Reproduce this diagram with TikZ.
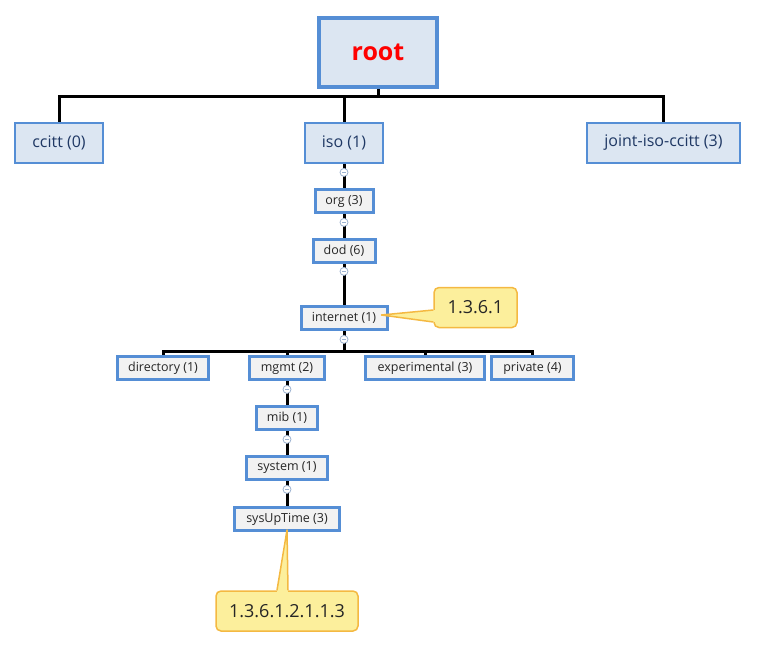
\documentclass[tikz,border=0pt]{standalone}
\usepackage{fontspec}
\setmainfont{Open Sans}
\usetikzlibrary{positioning}
\definecolor{boxblue}{HTML}{558ED5}
\definecolor{topfill}{HTML}{DCE6F2}
\definecolor{leaffill}{HTML}{F2F2F2}
\definecolor{toptext}{HTML}{1F3864}
\definecolor{notefill}{HTML}{FCEF9C}
\definecolor{noteline}{HTML}{F4B942}
\definecolor{markline}{HTML}{9DB3D1}
\tikzset{
x=1pt, y=-1pt, % one unit is one pixel, y grows downwards
node distance=24pt, % gap between two boxes of a chain
rootbox/.style={draw=boxblue, line width=4pt, fill=topfill, text=red, font=\fontsize{25}{30}\selectfont\bfseries, minimum width=118pt, minimum height=69pt}, % the root
topbox/.style={draw=boxblue, line width=2pt, fill=topfill, text=toptext, font=\fontsize{16}{19}\selectfont, minimum height=40pt, inner xsep=17pt}, % first level
oidbox/.style={draw=boxblue, line width=3pt, fill=leaffill, text=black!85, font=\fontsize{12.5}{15}\selectfont, minimum height=23pt, inner xsep=8pt}, % deeper levels
note/.style={draw=noteline, line width=1.5pt, fill=notefill, rounded corners=5pt, text=black!85, font=\fontsize{18}{21}\selectfont, minimum height=40pt}, % yellow callouts
wire/.style={line width=3pt, black}, % tree connectors
marker/.style={circle, draw=markline, fill=white, line width=0.8pt, minimum size=8pt, inner sep=0pt,
  path picture={\draw[markline, line width=0.8pt] ([xshift=-2pt]path picture bounding box.center) -- ([xshift=2pt]path picture bounding box.center);}}, % collapse sign
}

\begin{document}
\begin{tikzpicture}
    \useasboundingbox (0,0) rectangle (757,650);

    \node[rootbox] (ROOT) at (378,52.5) {root};
    \node[topbox] (ccitt) at (59,143) {ccitt (0)};
    \node[topbox] (iso) at (344,143) {iso (1)};
    \node[topbox] (joint) at (663.5,143) {joint-iso-ccitt (3)};

    \node[oidbox, minimum width=58pt, below=of iso] (org) {org (3)};
    \node[oidbox, minimum width=62pt, below=of org] (dod) {dod (6)};
    \node[oidbox, minimum width=86pt, below=41pt of dod] (internet) {internet (1)};

    \node[oidbox, minimum width=91pt] (directory) at (163,368) {directory (1)};
    \node[oidbox, minimum width=75pt] (mgmt) at (287,368) {mgmt (2)};
    \node[oidbox, minimum width=119pt] (experimental) at (425,368) {experimental (3)};
    \node[oidbox, minimum width=82pt] (private) at (532.5,368) {private (4)};

    \node[oidbox, minimum width=61pt, below=of mgmt] (mib) {mib (1)};
    \node[oidbox, minimum width=81pt, below=of mib] (system) {system (1)};
    \node[oidbox, minimum width=105pt, below=25pt of system] (sysUpTime) {sysUpTime (3)};

    \draw[wire] (ROOT.south) -- ++(0,8) -| (ccitt.north)
          (ROOT.south) -- ++(0,8) -| (iso.north)
          (ROOT.south) -- ++(0,8) -| (joint.north);
    \draw[wire] (iso) -- (org)
          (org) -- (dod)
          (dod) -- (internet)
          (mgmt) -- (mib)
          (mib) -- (system)
          (system) -- (sysUpTime);
    \draw[wire] (internet.south) -- ++(0,20) -| (directory.north)
          (internet.south) -- ++(0,20) -| (mgmt.north)
          (internet.south) -- ++(0,20) -| (experimental.north)
          (internet.south) -- ++(0,20) -| (private.north);

    \node[marker, below=4pt of iso] (isoMark) {};
    \node[marker, below=4pt of org] (orgMark) {};
    \node[marker, below=3pt of dod] (dodMark) {};
    \node[marker, below=4pt of internet] (internetMark) {};
    \node[marker, below=4pt of mgmt] (mgmtMark) {};
    \node[marker, below=4pt of mib] (mibMark) {};
    \node[marker, below=4pt of system] (systemMark) {};

    % callouts with their pointers
    \node[note, minimum width=83pt] (noteInternet) at (475.5,307.5) {1.3.6.1};
    \coordinate (tipInternet) at ([xshift=-7pt,yshift=3pt]internet.east);
    \fill[notefill] (tipInternet) -- ([xshift=2pt,yshift=-2.5pt]noteInternet.west) -- ([xshift=2pt,yshift=-14.5pt]noteInternet.west) -- cycle;
    \draw[noteline, line width=1.5pt, line join=round] ([yshift=-2.5pt]noteInternet.west) -- (tipInternet) -- ([yshift=-14.5pt]noteInternet.west);

    \node[note, minimum width=142pt] (noteUpTime) at (287,611) {1.3.6.1.2.1.1.3};
    \coordinate (tipUpTime) at ([yshift=2pt]sysUpTime.south);
    \fill[notefill] (tipUpTime) -- ([xshift=-10pt,yshift=-2pt]noteUpTime.north) -- ([xshift=1pt,yshift=-2pt]noteUpTime.north) -- cycle;
    \draw[noteline, line width=1.5pt, line join=round] ([xshift=-10pt]noteUpTime.north) -- (tipUpTime) -- ([xshift=1pt]noteUpTime.north);
\end{tikzpicture}
\end{document}
